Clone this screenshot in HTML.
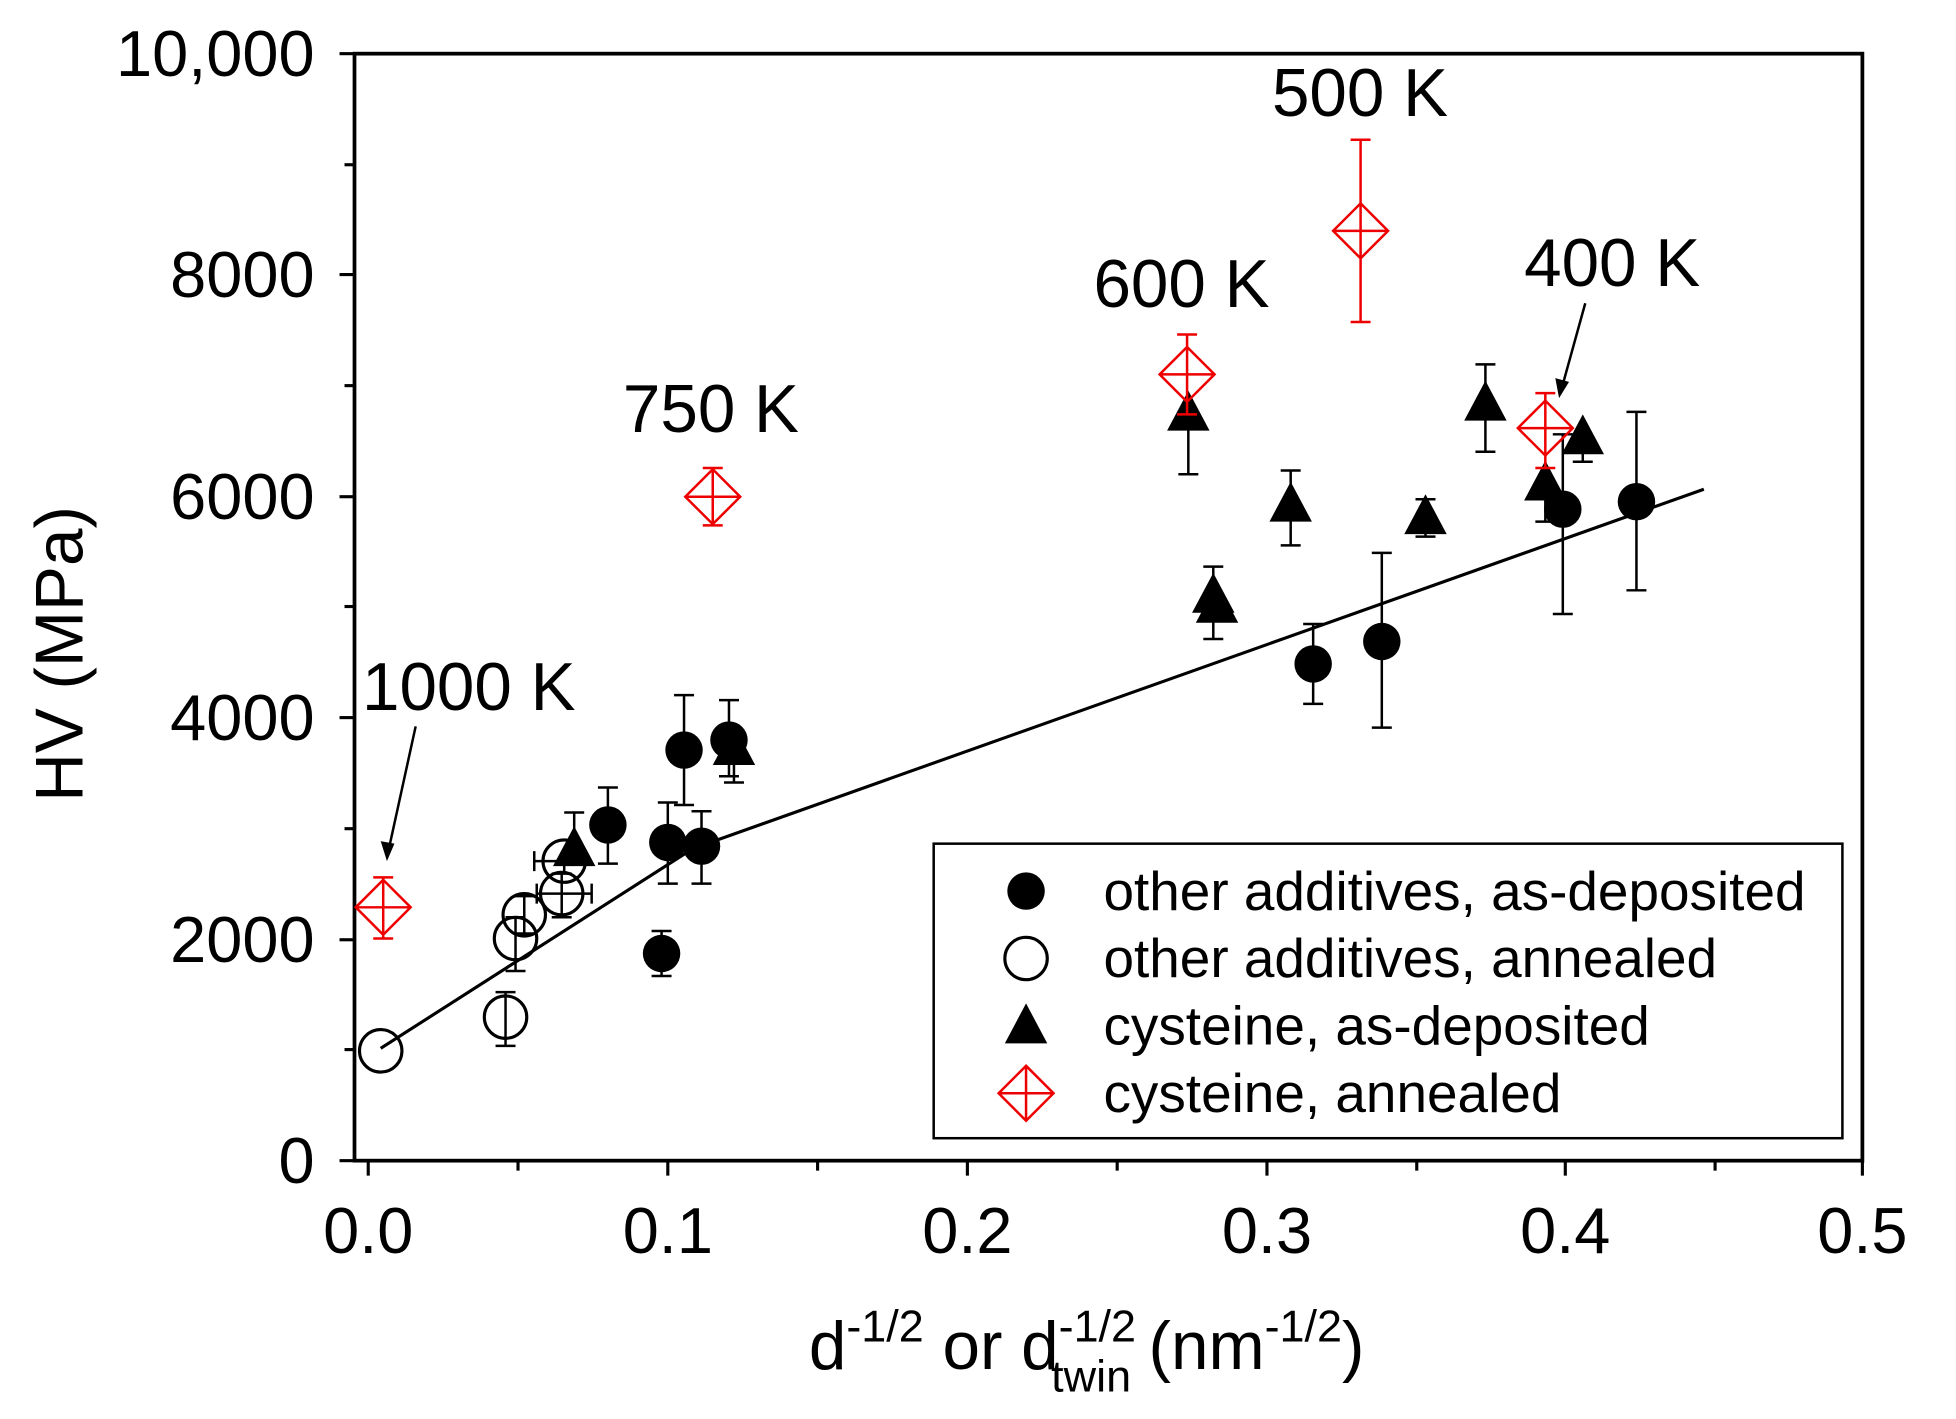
<!DOCTYPE html>
<html><head><meta charset="utf-8"><style>html,body{margin:0;padding:0;background:#fff}svg{display:block}</style></head>
<body>
<svg width="1956" height="1419" viewBox="0 0 1567 1137" preserveAspectRatio="none" xmlns="http://www.w3.org/2000/svg" font-family="Liberation Sans, Arial, sans-serif">
<rect x="0" y="0" width="1567" height="1137" fill="#fff"/>
<rect x="284" y="43" width="1208" height="887" fill="none" stroke="#000" stroke-width="3"/>
<g stroke="#000" stroke-width="2.5">
<line x1="295" y1="930" x2="295" y2="942"/><line x1="415" y1="930" x2="415" y2="938"/><line x1="535" y1="930" x2="535" y2="942"/><line x1="655" y1="930" x2="655" y2="938"/><line x1="775" y1="930" x2="775" y2="942"/><line x1="895" y1="930" x2="895" y2="938"/><line x1="1015" y1="930" x2="1015" y2="942"/><line x1="1135" y1="930" x2="1135" y2="938"/><line x1="1254" y1="930" x2="1254" y2="942"/><line x1="1374" y1="930" x2="1374" y2="938"/><line x1="1492" y1="930" x2="1492" y2="942"/>
<line x1="272" y1="930" x2="284" y2="930"/><line x1="276" y1="841" x2="284" y2="841"/><line x1="272" y1="753" x2="284" y2="753"/><line x1="276" y1="664" x2="284" y2="664"/><line x1="272" y1="575" x2="284" y2="575"/><line x1="276" y1="486" x2="284" y2="486"/><line x1="272" y1="398" x2="284" y2="398"/><line x1="276" y1="309" x2="284" y2="309"/><line x1="272" y1="220" x2="284" y2="220"/><line x1="276" y1="132" x2="284" y2="132"/><line x1="272" y1="43" x2="284" y2="43"/>
</g>
<g font-size="52" text-anchor="middle" fill="#000">
<text x="295" y="1004">0.0</text><text x="535" y="1004">0.1</text><text x="775" y="1004">0.2</text><text x="1015" y="1004">0.3</text><text x="1254" y="1004">0.4</text><text x="1492" y="1004">0.5</text>
</g>
<g font-size="52" text-anchor="end" fill="#000">
<text x="252" y="948">0</text><text x="252" y="771">2000</text><text x="252" y="593">4000</text><text x="252" y="416">6000</text><text x="252" y="238">8000</text><text x="252" y="61">10,000</text>
</g>
<text transform="translate(66,524) rotate(-90)" font-size="54" text-anchor="middle">HV (MPa)</text>
<text x="648" y="1097" font-size="54">d<tspan font-size="36" dy="-22">-1/2</tspan><tspan dy="22"> or d</tspan><tspan font-size="36" dy="-22">-1/2</tspan><tspan font-size="36" dx="-68" dy="40">twin</tspan><tspan dx="14" dy="-18">(nm</tspan><tspan font-size="36" dy="-22">-1/2</tspan><tspan dy="22">)</tspan></text>
<polyline points="305,840 555,680 1365,392" fill="none" stroke="#000" stroke-width="2.5"/>
<g stroke="#000" stroke-width="2" fill="none">
<path d="M535,643V708M527,643h16M527,708h16"/><path d="M548,557V645M540,557h16M540,645h16"/><path d="M584,561V622M576,561h16M576,622h16"/>
<path d="M562,650V708M554,650h16M554,708h16"/><path d="M487,631V692M479,631h16M479,692h16"/><path d="M530,746V782M522,746h16M522,782h16"/>
<path d="M1052,500V564M1044,500h16M1044,564h16"/><path d="M1107,443V583M1099,443h16M1099,583h16"/><path d="M1252,348V492M1244,348h16M1244,492h16"/><path d="M1311,330V473M1303,330h16M1303,473h16"/>
<path d="M405,795V838M397,795h16M397,838h16"/><path d="M413,735V778M405,735h16M405,778h16"/><path d="M420,718V748M412,718h16M412,748h16"/>
<path d="M450,700V735M442,700h16M442,735h16M430,716h44M430,708v16M474,708v16"/><path d="M452,688V698M428,690h40M428,682v16"/>
<path d="M460,651V690M452,651h16"/><path d="M588,585V627M580,627h16"/><path d="M952,330V380M944,380h16"/><path d="M972,454V512M964,454h16M964,512h16"/>
<path d="M1034,377V437M1026,377h16M1026,437h16"/><path d="M1142,400V430M1134,400h16M1134,430h16"/><path d="M1190,292V362M1182,292h16M1182,362h16"/><path d="M1238,370V418M1230,418h16"/><path d="M1268,339V370M1260,370h16"/>
</g>
<g fill="#000">
<circle cx="535" cy="675" r="15"/><circle cx="548" cy="601" r="15"/><circle cx="584" cy="593" r="15"/><circle cx="562" cy="678" r="15"/><circle cx="487" cy="661" r="15"/><circle cx="530" cy="764" r="15"/><circle cx="1052" cy="532" r="15"/><circle cx="1107" cy="514" r="15"/><circle cx="1252" cy="408" r="15"/><circle cx="1311" cy="402" r="15"/>
</g>
<g fill="none" stroke="#000" stroke-width="2.5">
<circle cx="305" cy="842" r="17"/><circle cx="405" cy="815" r="17"/><circle cx="413" cy="752" r="17"/><circle cx="420" cy="733" r="17"/><circle cx="450" cy="716" r="17"/><circle cx="452" cy="690" r="17"/>
</g>
<g fill="#000">
<path d="M460,662l17,32h-34z"/><path d="M588,581l17,32h-34z"/><path d="M952,313l17,32h-34z"/><path d="M972,459l17,32h-34z"/><path d="M975,467l17,32h-34z"/><path d="M1034,386l17,32h-34z"/><path d="M1142,396l17,32h-34z"/><path d="M1190,305l17,32h-34z"/><path d="M1238,369l17,32h-34z"/><path d="M1268,332l17,32h-34z"/>
</g>
<g stroke="#e00" stroke-width="2" fill="none">
<path d="M307,703V752M299,703h16M299,752h16M307,705l22,22l-22,22l-22,-22z M285,727h44"/>
<path d="M571,375V421M563,375h16M563,421h16M571,376l22,22l-22,22l-22,-22z M549,398h44"/>
<path d="M951,268V332M943,268h16M943,332h16M951,278l22,22l-22,22l-22,-22z M929,300h44"/>
<path d="M1090,112V258M1082,112h16M1082,258h16M1090,163l22,22l-22,22l-22,-22z M1068,185h44"/>
<path d="M1238,315V375M1230,315h16M1230,375h16M1238,321l22,22l-22,22l-22,-22z M1216,343h44"/>
</g>
<g font-size="54" fill="#000">
<text x="1019" y="93">500 K</text><text x="876" y="246">600 K</text><text x="1221" y="229">400 K</text><text x="499" y="346">750 K</text><text x="290" y="569">1000 K</text>
</g>
<g stroke="#000" stroke-width="2"><line x1="333" y1="582" x2="312" y2="678"/><line x1="1270" y1="243" x2="1252" y2="308"/></g>
<path d="M310,690l-5,-16l11,2z M1249,319l-3,-16l11,3z" fill="#000"/>
<rect x="748" y="676" width="728" height="236" fill="#fff" stroke="#000" stroke-width="2"/>
<circle cx="822" cy="714" r="15" fill="#000"/>
<circle cx="822" cy="768" r="17" fill="none" stroke="#000" stroke-width="2.5"/>
<path d="M822,804l17,32h-34z" fill="#000"/>
<path d="M822,854l22,22l-22,22l-22,-22z M822,854V898M800,876h44" fill="none" stroke="#e00" stroke-width="2"/>
<g font-size="44" fill="#000">
<text x="884" y="729">other additives, as-deposited</text><text x="884" y="783">other additives, annealed</text><text x="884" y="837">cysteine, as-deposited</text><text x="884" y="891">cysteine, annealed</text>
</g>
</svg>
</body></html>
